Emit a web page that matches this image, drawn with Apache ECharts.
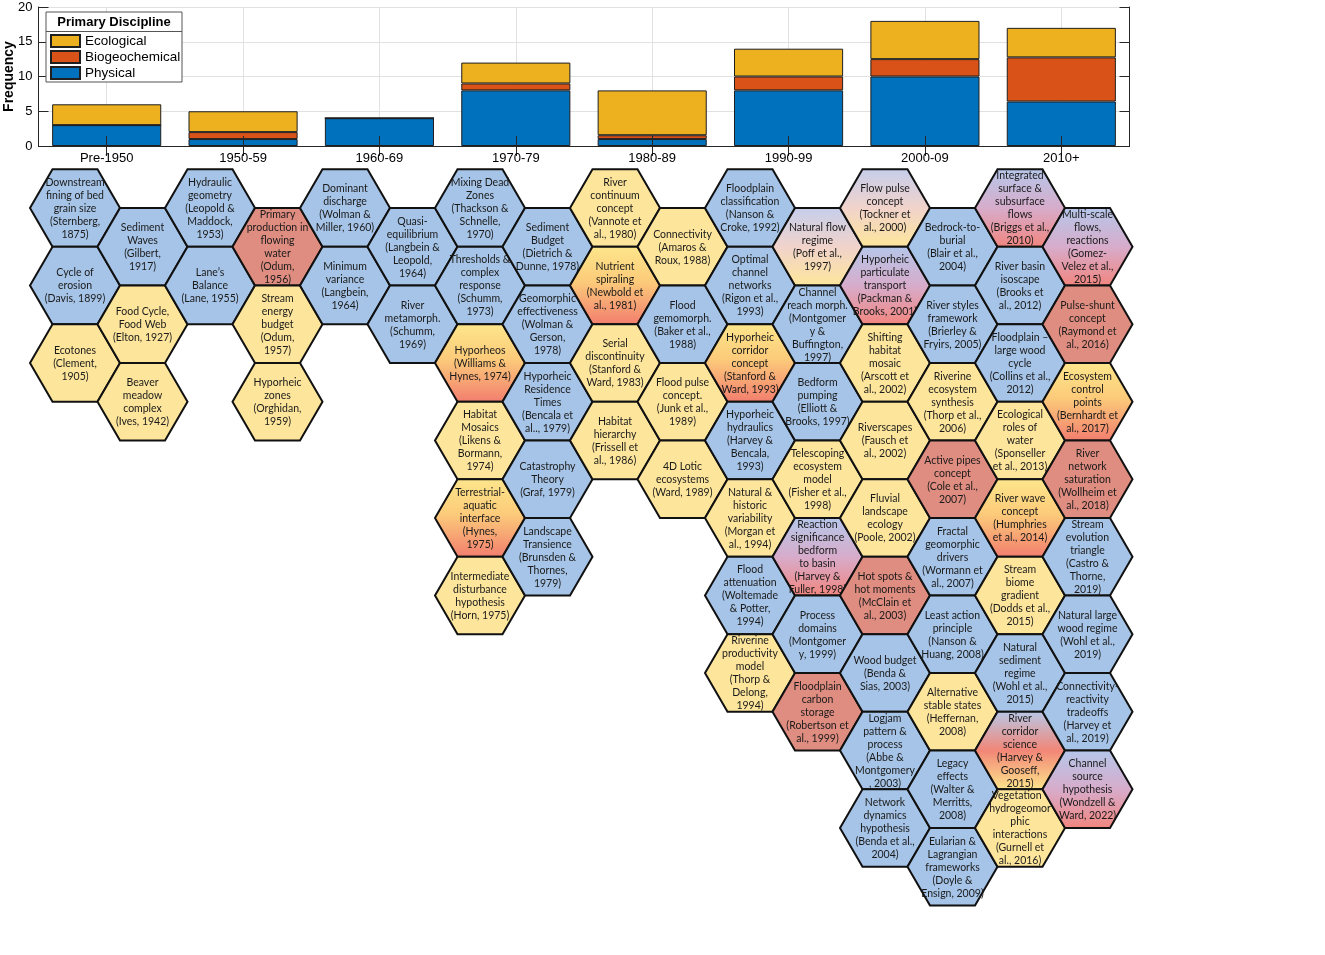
<!DOCTYPE html>
<html>
<head>
<meta charset="utf-8">
<script src="https://cdn.jsdelivr.net/npm/echarts@6/dist/echarts.min.js"></script>
<style>
html,body{margin:0;padding:0;background:#fff;}
#chart{width:1325px;height:955px;}
</style>
</head>
<body>
<div id="chart"></div>
<script>
// ---------- Bar chart data ----------
const categories = ['Pre-1950','1950-59','1960-69','1970-79','1980-89','1990-99','2000-09','2010+'];
const physical = [3, 1, 4, 8, 1, 8, 10, 6.4];
const biogeochemical = [0, 1, 0, 1, 0.55, 2, 2.5, 6.35];
const ecological = [3, 3, 0, 3, 6.45, 4, 5.5, 4.25];
const yTicks = [0, 5, 10, 15, 20];

// ---------- Hexagon concepts, one array per column (P=physical, E=ecological, B=biogeochemical; mixes) ----------
const col0 = [['Downstream\nfining of bed\ngrain size\n(Sternberg,\n1875)','P'],['Cycle of\nerosion\n(Davis, 1899)','P'],['Ecotones\n(Clement,\n1905)','E']];
const col1 = [['Sediment\nWaves\n(Gilbert,\n1917)','P'],['Food Cycle,\nFood Web\n(Elton, 1927)','E'],['Beaver\nmeadow\ncomplex\n(Ives, 1942)','E']];
const col2 = [['Hydraulic\ngeometry\n(Leopold &\nMaddock,\n1953)','P'],['Lane\u2019s\nBalance\n(Lane, 1955)','P']];
const col3 = [['Primary\nproduction in\nflowing\nwater\n(Odum,\n1956)','B'],['Stream\nenergy\nbudget\n(Odum,\n1957)','E'],['Hyporheic\nzones\n(Orghidan,\n1959)','E']];
const col4 = [['Dominant\ndischarge\n(Wolman &\nMiller, 1960)','P'],['Minimum\nvariance\n(Langbein,\n1964)','P']];
const col5 = [['Quasi-\nequilibrium\n(Langbein &\nLeopold,\n1964)','P'],['River\nmetamorph.\n(Schumm,\n1969)','P']];
const col6 = [['Mixing Dead\nZones\n(Thackson &\nSchnelle,\n1970)','P'],['Thresholds &\ncomplex\nresponse\n(Schumm,\n1973)','P'],['Hyporheos\n(Williams &\nHynes, 1974)','EB'],['Habitat\nMosaics\n(Likens &\nBormann,\n1974)','E'],['Terrestrial-\naquatic\ninterface\n(Hynes,\n1975)','EB'],['Intermediate\ndisturbance\nhypothesis\n(Horn, 1975)','E']];
const col7 = [['Sediment\nBudget\n(Dietrich &\nDunne, 1978)','P'],['Geomorphic\neffectiveness\n(Wolman &\nGerson,\n1978)','P'],['Hyporheic\nResidence\nTimes\n(Bencala et\nal.., 1979)','P'],['Catastrophy\nTheory\n(Graf, 1979)','P'],['Landscape\nTransience\n(Brunsden &\nThornes,\n1979)','P']];
const col8 = [['River\ncontinuum\nconcept\n(Vannote et\nal., 1980)','E'],['Nutrient\nspiraling\n(Newbold et\nal., 1981)','EB'],['Serial\ndiscontinuity\n(Stanford &\nWard, 1983)','E'],['Habitat\nhierarchy\n(Frissell et\nal., 1986)','E']];
const col9 = [['Connectivity\n(Amaros &\nRoux, 1988)','E'],['Flood\ngemomorph.\n(Baker et al.,\n1988)','P'],['Flood pulse\nconcept.\n(Junk et al.,\n1989)','E'],['4D Lotic\necosystems\n(Ward, 1989)','E']];
const col10 = [['Floodplain\nclassification\n(Nanson &\nCroke, 1992)','P'],['Optimal\nchannel\nnetworks\n(Rigon et al.,\n1993)','P'],['Hyporheic\ncorridor\nconcept\n(Stanford &\nWard, 1993)','EB'],['Hyporheic\nhydraulics\n(Harvey &\nBencala,\n1993)','P'],['Natural &\nhistoric\nvariability\n(Morgan et\nal., 1994)','E'],['Flood\nattenuation\n(Woltemade\n& Potter,\n1994)','P'],['Riverine\nproductivity\nmodel\n(Thorp &\nDelong,\n1994)','E']];
const col11 = [['Natural flow\nregime\n(Poff et al.,\n1997)','PE'],['Channel\nreach morph.\n(Montgomer\ny &\nBuffington,\n1997)','P'],['Bedform\npumping\n(Elliott &\nBrooks, 1997)','P'],['Telescoping\necosystem\nmodel\n(Fisher et al.,\n1998)','E'],['Reaction\nsignificance\nbedform\nto basin\n(Harvey &\nFuller, 1998)','PB'],['Process\ndomains\n(Montgomer\ny, 1999)','P'],['Floodplain\ncarbon\nstorage\n(Robertson et\nal., 1999)','B']];
const col12 = [['Flow pulse\nconcept\n(Tockner et\nal., 2000)','PE'],['Hyporheic\nparticulate\ntransport\n(Packman &\nBrooks, 2001)','PB'],['Shifting\nhabitat\nmosaic\n(Arscott et\nal., 2002)','E'],['Riverscapes\n(Fausch et\nal., 2002)','E'],['Fluvial\nlandscape\necology\n(Poole, 2002)','E'],['Hot spots &\nhot moments\n(McClain et\nal., 2003)','B'],['Wood budget\n(Benda &\nSias, 2003)','P'],['Logjam\npattern &\nprocess\n(Abbe &\nMontgomery\n, 2003)','P'],['Network\ndynamics\nhypothesis\n(Benda et al.,\n2004)','P']];
const col13 = [['Bedrock-to-\nburial\n(Blair et al.,\n2004)','P'],['River styles\nframework\n(Brierley &\nFryirs, 2005)','P'],['Riverine\necosystem\nsynthesis\n(Thorp et al.,\n2006)','E'],['Active pipes\nconcept\n(Cole et al.,\n2007)','B'],['Fractal\ngeomorphic\ndrivers\n(Wormann et\nal., 2007)','P'],['Least action\nprinciple\n(Nanson &\nHuang, 2008)','P'],['Alternative\nstable states\n(Heffernan,\n2008)','E'],['Legacy\neffects\n(Walter &\nMerritts,\n2008)','P'],['Eularian &\nLagrangian\nframeworks\n(Doyle &\nEnsign, 2009)','P']];
const col14 = [['Integrated\nsurface &\nsubsurface\nflows\n(Briggs et al.,\n2010)','PB'],['River basin\nisoscape\n(Brooks et\nal., 2012)','P'],['Floodplain \u2013\nlarge wood\ncycle\n(Collins et al.,\n2012)','P'],['Ecological\nroles of\nwater\n(Sponseller\net al., 2013)','E'],['River wave\nconcept\n(Humphries\net al., 2014)','EB'],['Stream\nbiome\ngradient\n(Dodds et al.,\n2015)','E'],['Natural\nsediment\nregime\n(Wohl et al.,\n2015)','P'],['River\ncorridor\nscience\n(Harvey &\nGooseff,\n2015)','PBE'],['Vegetation -\nhydrogeomor\nphic\ninteractions\n(Gurnell et\nal., 2016)','E']];
const col15 = [['Multi-scale\nflows,\nreactions\n(Gomez-\nVelez et al.,\n2015)','PB'],['Pulse-shunt\nconcept\n(Raymond et\nal., 2016)','B'],['Ecosystem\ncontrol\npoints\n(Bernhardt et\nal., 2017)','EB'],['River\nnetwork\nsaturation\n(Wollheim et\nal., 2018)','B'],['Stream\nevolution\ntriangle\n(Castro &\nThorne,\n2019)','P'],['Natural large\nwood regime\n(Wohl et al.,\n2019)','P'],['Connectivity-\nreactivity\ntradeoffs\n(Harvey et\nal., 2019)','P'],['Channel\nsource\nhypothesis\n(Wondzell &\nWard, 2022)','PB']];
const hexColumns = [col0,col1,col2,col3,col4,col5,col6,col7,col8,col9,col10,col11,col12,col13,col14,col15];

// ---------- styles ----------
const C_PHYS = '#0072BD', C_BIO = '#D95319', C_ECO = '#EDB120';
function grad(stops){
  return {type:'linear', x:0, y:0, x2:0, y2:1, global:false,
          colorStops: stops.map(s => ({offset:s[0], color:s[1]}))};
}
const hexFill = {
  P: '#A6C4E7',
  E: '#FDE69C',
  B: '#E08D81',
  EB: grad([[0,'#FDE68C'],[0.45,'#FCCB7A'],[1,'#F27D6E']]),
  PE: grad([[0,'#C5CEEC'],[0.5,'#F1D3CB'],[1,'#FDE69A']]),
  PB: grad([[0,'#B5C7EA'],[0.5,'#D7ACCB'],[1,'#F2857E']]),
  PBE: grad([[0,'#B7C8E8'],[0.5,'#F28677'],[1,'#FDE68C']])
};

// flatten hex list: column index -> x, half-row index -> y
const hexItems = [];
hexColumns.forEach((col, ci) => {
  col.forEach((item, ri) => {
    hexItems.push({col: ci, h: 2*ri + (ci % 2), label: item[0], type: item[1]});
  });
});

const AX = '#262626';
const FONT = '"Liberation Sans", Arial, Helvetica, sans-serif';
const chart = echarts.init(document.getElementById('chart'), null, {renderer:'canvas'});

const option = {
  animation: false,
  backgroundColor: '#fff',
  grid: [
    {left: 38.5, top: 7, width: 1091, height: 139, containLabel: false, outerBoundsMode: 'none'},
    {left: 7.5, top: 169.25, width: 1147.5, height: 736.25, containLabel: false, outerBoundsMode: 'none'}
  ],
  legend: {
    data: ['Ecological','Biogeochemical','Physical'],
    orient: 'vertical', left: 50, top: 33, padding: 0,
    itemWidth: 29, itemHeight: 12, itemGap: 0,
    icon: 'rect',
    textStyle: {fontSize: 13.5, lineHeight: 16, fontFamily: FONT, color: '#000'},
    selectedMode: false, z: 5
  },
  graphic: [
    {type:'rect', z: 3, shape:{x:46, y:12, width:136, height:70}, style:{fill:'#fff', stroke:'#555', lineWidth:1}},
    {type:'line', z: 3, shape:{x1:46, y1:31.5, x2:182, y2:31.5}, style:{stroke:'#555', lineWidth:1}},
    {type:'text', z: 4, x: 114, y: 22, style:{text:'Primary Discipline', align:'center', verticalAlign:'middle', font:'bold 13px ' + FONT, fill:'#000'}}
  ],
  xAxis: [
    {
      type: 'category', gridIndex: 0, data: categories, position: 'bottom', z: 10,
      axisLine: {show: true, lineStyle: {color: AX, width: 1}},
      axisTick: {show: true, inside: true, alignWithLabel: true, length: 10, lineStyle: {color: AX}},
      axisLabel: {fontSize: 13, fontFamily: FONT, color: '#000', margin: 6},
      splitLine: {show: false}
    },
    {
      type: 'category', gridIndex: 0, data: ['','','','','','','','','','','','','','','','',''],
      boundaryGap: false, position: 'top',
      axisLine: {show: true, lineStyle: {color: AX, width: 1}},
      axisTick: {show: true, inside: true, length: 10, interval: (i) => i % 2 === 1, lineStyle: {color: AX}},
      axisLabel: {show: false},
      splitLine: {show: true, interval: (i) => i % 2 === 1, lineStyle: {color: '#e1e1e1', width: 1}}
    },
    {
      type: 'value', gridIndex: 1, min: -1, max: 16, show: false
    }
  ],
  yAxis: [
    {
      type: 'value', gridIndex: 0, min: yTicks[0], max: yTicks[yTicks.length-1], interval: 5,
      name: 'Frequency', nameLocation: 'middle', nameGap: 22, nameRotate: 90, nameMoveOverlap: false,
      nameTextStyle: {fontSize: 14, fontWeight: 'bold', fontFamily: FONT, color: '#000'},
      axisLine: {show: true, lineStyle: {color: AX, width: 1}},
      axisTick: {show: true, inside: true, length: 10, lineStyle: {color: AX}},
      axisLabel: {fontSize: 13, fontFamily: FONT, color: '#000', margin: 6},
      splitLine: {show: true, lineStyle: {color: '#e1e1e1', width: 1}}
    },
    {
      type: 'value', gridIndex: 0, min: 0, max: 20, interval: 5, position: 'right',
      axisLine: {show: true, lineStyle: {color: AX, width: 1}},
      axisTick: {show: true, inside: true, length: 10, lineStyle: {color: AX}},
      axisLabel: {show: false},
      splitLine: {show: false}
    },
    {
      type: 'value', gridIndex: 1, min: -1, max: 18, inverse: true, show: false
    }
  ],
  series: [
    {name: 'Physical', type: 'bar', stack: 'd', xAxisIndex: 0, yAxisIndex: 0, data: physical,
     barCategoryGap: '20%', itemStyle: {color: C_PHYS, borderColor: '#1f1f1f', borderWidth: 1}},
    {name: 'Biogeochemical', type: 'bar', stack: 'd', xAxisIndex: 0, yAxisIndex: 0, data: biogeochemical,
     barCategoryGap: '20%', itemStyle: {color: C_BIO, borderColor: '#1f1f1f', borderWidth: 1}},
    {name: 'Ecological', type: 'bar', stack: 'd', xAxisIndex: 0, yAxisIndex: 0, data: ecological,
     barCategoryGap: '20%', itemStyle: {color: C_ECO, borderColor: '#1f1f1f', borderWidth: 1}},
    {
      name: 'concepts', type: 'custom', xAxisIndex: 2, yAxisIndex: 2, silent: true,
      data: hexItems.map(d => [d.col, d.h]),
      renderItem: function (params, api) {
        const item = hexItems[params.dataIndex];
        const c = api.coord([api.value(0), api.value(1)]);
        const R = Math.abs(api.size([1, 0])[0]) / 1.5;
        const hh = Math.abs(api.size([0, 1])[1]);
        const pts = [
          [c[0]-R, c[1]], [c[0]-R/2, c[1]-hh], [c[0]+R/2, c[1]-hh],
          [c[0]+R, c[1]], [c[0]+R/2, c[1]+hh], [c[0]-R/2, c[1]+hh]
        ];
        return {
          type: 'group',
          children: [
            {type: 'polygon', shape: {points: pts},
             style: {fill: hexFill[item.type], stroke: '#111', lineWidth: 2, lineJoin: 'miter'}},
            {type: 'text', x: c[0], y: c[1] + 0.5,
             style: {text: item.label, align: 'center', verticalAlign: 'middle',
                     fontSize: 10.5, lineHeight: 13, fontFamily: 'Lato, "Open Sans", sans-serif', fill: '#1a1a1a'}}
          ]
        };
      }
    }
  ]
};
chart.setOption(option);
</script>
</body>
</html>
